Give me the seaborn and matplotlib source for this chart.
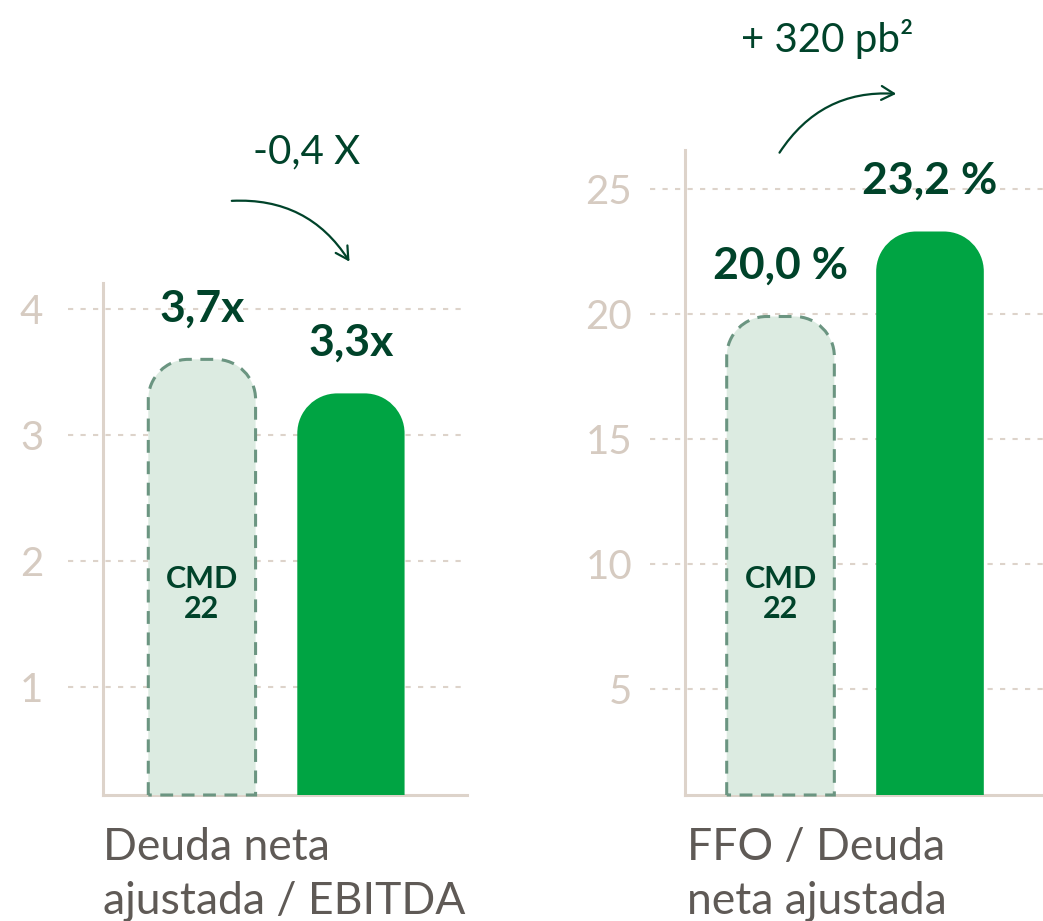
import matplotlib
matplotlib.use("Agg")
import matplotlib.pyplot as plt
import seaborn as sns
import numpy as np
from matplotlib.path import Path
from matplotlib.patches import PathPatch, FancyArrowPatch
import matplotlib.transforms as mtrans

# ---------------- data ----------------
categories = ["CMD 22", "Actual"]
left_values = [3.6, 3.33]
left_labels = ["3,7x", "3,3x"]
left_ticks = [1, 2, 3, 4]
left_title = "Deuda neta\najustada / EBITDA"
left_change = "-0,4 X"

right_values = [19.9, 23.3]
right_labels = ["20,0 %", "23,2 %"]
right_ticks = [5, 10, 15, 20, 25]
right_title = "FFO / Deuda\nneta ajustada"
right_change = "+ 320 pb²"

inner_label = "CMD\n22"

# ---------------- style ----------------
sns.set_theme(style="white")
plt.rcParams["font.family"] = ["Lato", "DejaVu Sans"]

W, H = 1043, 921
fig = plt.figure(figsize=(W / 100, H / 100), dpi=100)
fig.patch.set_facecolor("white")

GREEN = "#00a443"
LIGHT = "#dcebe1"
EDGE = "#6b9581"
DARK = "#00432a"
AXC = "#ddd3ca"
TICKC = "#d6cbc1"
TITLEC = "#5f5a56"


def px_ax(x0, x1, ytop, ybot):
    return [x0 / W, 1 - ybot / H, (x1 - x0) / W, (ybot - ytop) / H]


def rounded_path(xl, xr, y0, y1, rx, ry):
    k = 0.5523
    verts = [
        (xl, y0),
        (xl, y1 - ry),
        (xl, y1 - ry + k * ry), (xl + rx - k * rx, y1), (xl + rx, y1),
        (xr - rx, y1),
        (xr - rx + k * rx, y1), (xr, y1 - ry + k * ry), (xr, y1 - ry),
        (xr, y0),
        (xl, y0),
    ]
    codes = [Path.MOVETO, Path.LINETO,
             Path.CURVE4, Path.CURVE4, Path.CURVE4,
             Path.LINETO,
             Path.CURVE4, Path.CURVE4, Path.CURVE4,
             Path.LINETO, Path.CLOSEPOLY]
    return Path(verts, codes)


def panel(rect, values, labels, ticks, ylim, xlim, pad, grid_x0, grid_x1, inner_y):
    ax = fig.add_axes(rect)
    ax.set_facecolor("none")
    sns.barplot(x=categories, y=values, ax=ax, width=0.72,
                palette=[LIGHT, GREEN], hue=categories, legend=False)
    ax.set_xlim(*xlim)
    ax.set_ylim(*ylim)
    ax.set_xticks([])
    ax.set_yticks(ticks)
    ax.set_yticklabels([str(t) for t in ticks])
    ax.tick_params(axis="y", length=0, pad=pad, labelsize=29, labelcolor=TICKC)
    ax.set_xlabel("")
    ax.set_ylabel("")
    for s in ["top", "right"]:
        ax.spines[s].set_visible(False)
    for s in ["left", "bottom"]:
        ax.spines[s].set_color(AXC)
        ax.spines[s].set_linewidth(2.2)
        ax.spines[s].set_zorder(1.5)

    # dashed grid lines (extend left of spine)
    ax.hlines(ticks, grid_x0, grid_x1, transform=ax.get_yaxis_transform(),
              colors=AXC, linewidth=1.5, linestyles=(0, (2.5, 3.5)),
              clip_on=False, zorder=0.5)

    bbox = ax.get_position()
    ax_w_px = bbox.width * W
    ax_h_px = bbox.height * H
    ppx = ax_w_px / (xlim[1] - xlim[0])
    ppy = ax_h_px / (ylim[1] - ylim[0])
    r = 40
    rx, ry = r / ppx, r / ppy

    patches = list(ax.patches)
    for i, p in enumerate(patches):
        xl = p.get_x()
        xr = xl + p.get_width()
        top = p.get_height()
        p.set_visible(False)
        path = rounded_path(xl, xr, ylim[0], top, rx, ry)
        if i == 0:
            pp = PathPatch(path, facecolor=LIGHT, edgecolor=EDGE, linewidth=2.2,
                           linestyle=(0, (4.2, 2.8)), zorder=3, clip_on=False)
        else:
            pp = PathPatch(path, facecolor=GREEN, edgecolor="none", zorder=3,
                           clip_on=False)
        ax.add_patch(pp)
        ax.annotate(labels[i], xy=(xl + p.get_width() / 2, top),
                    xytext=(0, 27), textcoords="offset points",
                    ha="center", va="baseline", fontsize=32,
                    fontweight="bold", color=DARK, zorder=5)
        if i == 0:
            ax.text(xl + p.get_width() / 2, inner_y, inner_label,
                    transform=mtrans.blended_transform_factory(ax.transData, ax.transAxes),
                    ha="center", va="center", fontsize=22, fontweight="bold",
                    color=DARK, linespacing=1.1, zorder=5)
    return ax


axL = panel(px_ax(103, 467, 283, 795), left_values, left_labels, left_ticks,
            ylim=(0.143, 4.206), xlim=(-0.664, 1.779), pad=43,
            grid_x0=-0.096, grid_x1=0.989, inner_y=0.393)
axR = panel(px_ax(685, 1043, 150, 795), right_values, right_labels, right_ticks,
            ylim=(0.76, 26.56), xlim=(-0.639, 1.756), pad=38,
            grid_x0=-0.098, grid_x1=1.0, inner_y=0.312)


def fx(x):
    return x / W


def fy(y):
    return 1 - y / H


for title, x0 in [(left_title, 103), (right_title, 687)]:
    lines = title.split("\n")
    for j, line in enumerate(lines):
        fig.text(fx(x0), fy(860 + 54 * j), line, ha="left", va="baseline",
                 fontsize=32, color=TITLEC)

fig.text(fx(307), fy(163), left_change, ha="center", va="baseline",
         fontsize=29, color=DARK)
fig.text(fx(827), fy(52), right_change, ha="center", va="baseline",
         fontsize=29, color=DARK)

arr1 = FancyArrowPatch((fx(229), fy(201)), (fx(351), fy(264)),
                       transform=fig.transFigure, connectionstyle="arc3,rad=-0.3",
                       arrowstyle="->,head_length=9,head_width=5",
                       color=DARK, linewidth=1.6)
fig.patches.append(arr1)
arr2 = FancyArrowPatch((fx(778), fy(155)), (fx(899), fy(94)),
                       transform=fig.transFigure, connectionstyle="arc3,rad=-0.3",
                       arrowstyle="->,head_length=9,head_width=5",
                       color=DARK, linewidth=1.6)
fig.patches.append(arr2)

fig.savefig("out.png", dpi=100, facecolor="white")
